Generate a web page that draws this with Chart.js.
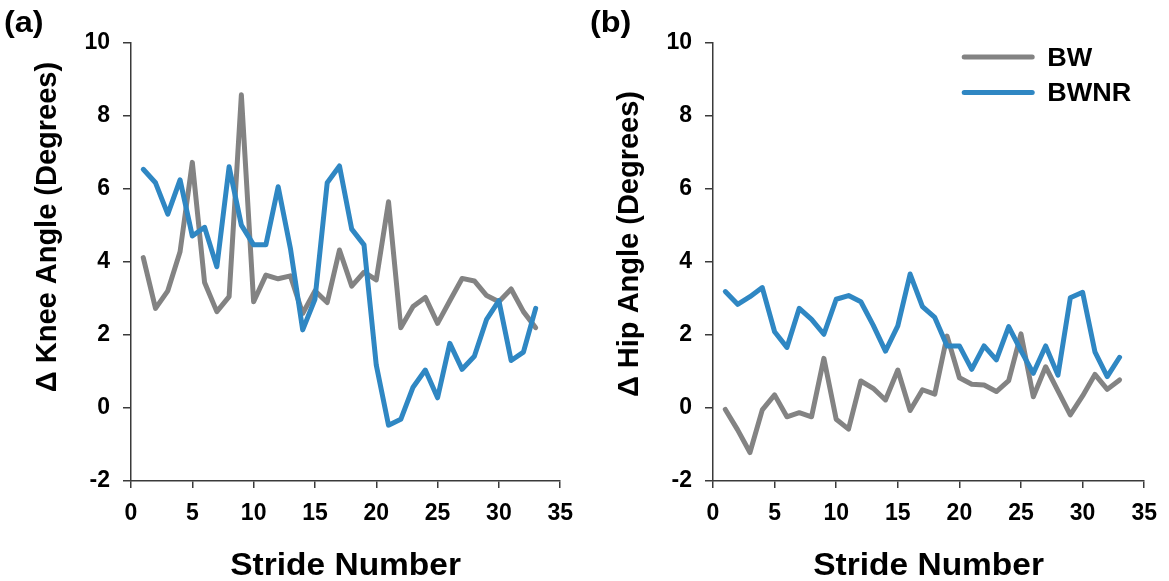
<!DOCTYPE html>
<html>
<head>
<meta charset="utf-8">
<script src="https://cdn.jsdelivr.net/npm/chart.js@4.4.1/dist/chart.umd.min.js"></script>
<style>
  html, body { margin: 0; padding: 0; background: #ffffff; }
  #wrap { position: relative; width: 1169px; height: 581px; overflow: hidden; }
  canvas { position: absolute; top: 0; }
  #knee { left: 0; }
  #hip { left: 585px; }
</style>
</head>
<body>
<div id="wrap">
  <canvas id="knee" width="585" height="581"></canvas>
  <canvas id="hip" width="584" height="581"></canvas>
</div>
<script>
// Stride numbers on the x axis
const strides = [1,2,3,4,5,6,7,8,9,10,11,12,13,14,15,16,17,18,19,20,21,22,23,24,25,26,27,28,29,30,31,32,33];

// Change in knee angle per stride (degrees)
const kneeBW   = [4.12,2.73,3.21,4.28,6.73,3.44,2.64,3.05,8.58,2.91,3.64,3.54,3.62,2.59,3.21,2.89,4.33,3.34,3.72,3.51,5.65,2.20,2.78,3.03,2.32,2.94,3.55,3.48,3.08,2.91,3.26,2.64,2.20];
const kneeBWNR = [6.54,6.17,5.31,6.25,4.71,4.95,3.87,6.61,5.01,4.47,4.47,6.06,4.37,2.14,2.98,6.17,6.63,4.90,4.47,1.18,-0.47,-0.31,0.57,1.04,0.28,1.77,1.06,1.42,2.43,2.94,1.30,1.53,2.73];

// Change in hip angle per stride (degrees)
const hipBW   = [-0.04,-0.60,-1.22,-0.05,0.36,-0.24,-0.13,-0.24,1.36,-0.31,-0.58,0.74,0.54,0.22,1.04,-0.07,0.50,0.38,1.97,0.83,0.65,0.63,0.45,0.75,2.03,0.31,1.13,0.47,-0.19,0.33,0.92,0.51,0.77];
const hipBWNR = [3.19,2.84,3.05,3.30,2.09,1.66,2.73,2.43,2.02,2.98,3.08,2.91,2.27,1.56,2.25,3.67,2.78,2.48,1.70,1.70,1.06,1.70,1.32,2.23,1.57,0.95,1.70,0.90,3.02,3.17,1.54,0.86,1.39];

const seriesNames = ['BW', 'BWNR'];
const xTicks = [0, 5, 10, 15, 20, 25, 30, 35];
const yTicks = [-2, 0, 2, 4, 6, 8, 10];

const GRAY = '#838383';
const BLUE = '#2F87C3';
const AXIS = '#3a3a3a';
const FONT = 'Arial, "Liberation Sans", sans-serif';
const WIDEN = 1.08; // horizontal text stretch

function points(values) {
  return strides.map((s, i) => ({ x: s, y: values[i] }));
}

// Draw horizontally widened text anchored at (x, y)
function wideText(ctx, text, x, y, align) {
  ctx.save();
  ctx.translate(x, y);
  ctx.scale(WIDEN, 1);
  ctx.textAlign = align;
  ctx.fillText(text, 0, 0);
  ctx.restore();
}

// Draws axis titles, the panel letter and (optionally) the legend
const decorations = {
  id: 'decorations',
  afterDraw(chart, args, opts) {
    const ctx = chart.ctx;
    const a = chart.chartArea;
    ctx.save();
    ctx.fillStyle = '#000';
    ctx.textBaseline = 'alphabetic';

    // panel letter
    ctx.font = 'bold 30px ' + FONT;
    wideText(ctx, opts.panel, opts.panelX, 32, 'left');

    // x axis title
    ctx.font = 'bold 31px ' + FONT;
    wideText(ctx, opts.xTitle, (a.left + a.right) / 2, 575, 'center');

    // y axis title (rotated)
    ctx.save();
    ctx.translate(a.left - 83, opts.yTitleCenter);
    ctx.rotate(-Math.PI / 2);
    ctx.font = 'bold 29px ' + FONT;
    ctx.textAlign = 'center';
    ctx.textBaseline = 'middle';
    ctx.fillText(opts.yTitle, 0, 0);
    ctx.restore();

    // legend
    if (opts.legend) {
      chart.data.datasets.forEach((ds, i) => {
        const y = 57 + i * 35.5;
        ctx.strokeStyle = ds.borderColor;
        ctx.lineWidth = 5;
        ctx.lineCap = 'round';
        ctx.beginPath();
        ctx.moveTo(a.right - 180, y);
        ctx.lineTo(a.right - 112, y);
        ctx.stroke();
        ctx.font = 'bold 25px ' + FONT;
        ctx.fillStyle = '#000';
        wideText(ctx, ds.label, a.right - 97, y + 8.5, 'left');
      });
    }
    ctx.restore();
  }
};

function makeChart(id, bw, bwnr, opts) {
  return new Chart(document.getElementById(id), {
    type: 'line',
    data: {
      datasets: [
        { label: seriesNames[0], data: points(bw), borderColor: GRAY, order: 1 },
        { label: seriesNames[1], data: points(bwnr), borderColor: BLUE, order: 0 }
      ]
    },
    options: {
      responsive: false,
      animation: false,
      devicePixelRatio: 1,
      elements: {
        line: { borderWidth: 5, tension: 0, borderJoinStyle: 'round', borderCapStyle: 'round', fill: false },
        point: { radius: 0, hoverRadius: 0 }
      },
      layout: { padding: { left: 0, top: 43, right: opts.padRight, bottom: 0 } },
      plugins: {
        legend: { display: false },
        tooltip: { enabled: false },
        decorations: opts
      },
      scales: {
        x: {
          type: 'linear',
          min: 0, max: 35,
          afterBuildTicks: s => { s.ticks = xTicks.map(v => ({ value: v })); },
          afterFit: s => { s.height = 100; },
          border: { display: true, color: AXIS, width: 1.5 },
          grid: { drawOnChartArea: false, drawTicks: true, tickLength: 7, color: AXIS, lineWidth: 1.5 },
          ticks: { color: '#000', font: { family: FONT, size: 23, weight: 'bold' }, padding: 12, maxRotation: 0 }
        },
        y: {
          type: 'linear',
          min: -2, max: 10,
          afterBuildTicks: s => { s.ticks = yTicks.map(v => ({ value: v })); },
          afterFit: s => { s.width = opts.axisWidth; },
          border: { display: true, color: AXIS, width: 1.5 },
          grid: { drawOnChartArea: false, drawTicks: true, tickLength: 8, color: AXIS, lineWidth: 1.5 },
          ticks: { color: '#000', font: { family: FONT, size: 23, weight: 'bold' }, padding: 13 }
        }
      }
    },
    plugins: [decorations]
  });
}

makeChart('knee', kneeBW, kneeBWNR, {
  panel: '(a)', panelX: 4,
  xTitle: 'Stride Number',
  yTitle: '\u0394 Knee Angle (Degrees)',
  yTitleCenter: 227,
  legend: false,
  padRight: 17, axisWidth: 131
});

makeChart('hip', hipBW, hipBWNR, {
  panel: '(b)', panelX: 5,
  xTitle: 'Stride Number',
  yTitle: '\u0394 Hip Angle (Degrees)',
  yTitleCenter: 244,
  legend: true,
  padRight: 19, axisWidth: 128
});
</script>
</body>
</html>
